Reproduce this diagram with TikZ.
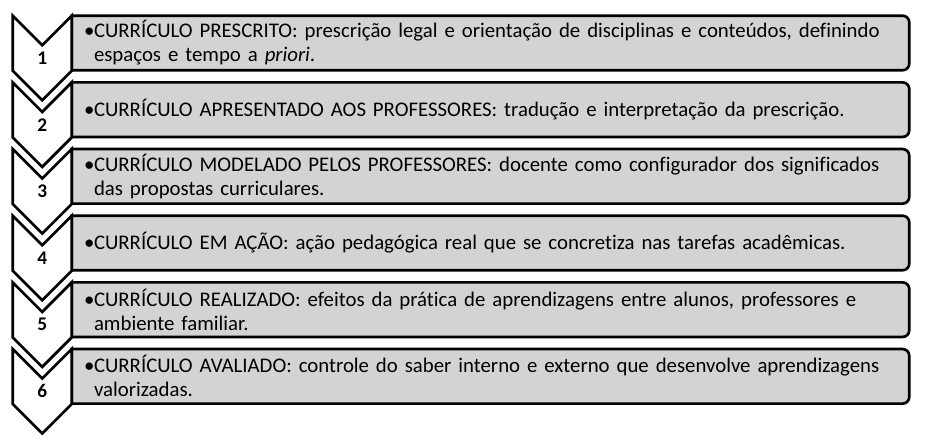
\documentclass[tikz,border=0pt]{standalone}
\usepackage{fontspec}
\setmainfont{Carlito}[Ligatures={NoCommon}]
\usetikzlibrary{calc,backgrounds}
\definecolor{stagegray}{RGB}{211,211,211}
\tikzstyle{stage} = [text width=594.75pt, inner xsep=16.5pt, inner ysep=0pt,
    minimum height=40.5pt, align=left, font=\fontsize{15.6}{18}\selectfont]
\tikzstyle{stageframe} = [draw, line width=2pt, fill=stagegray]
\tikzstyle{chevron} = [draw, line width=2pt, fill=white, line join=miter]
\tikzstyle{stagenum} = [font=\fontsize{14.5}{16}\selectfont\bfseries]
\newcommand{\stagebullet}{\llap{\makebox[7.5pt][l]{•}}}

\begin{document}
\begin{tikzpicture}[node distance = 50pt]
   \useasboundingbox (0,0) rectangle (695.25pt,-330.75pt);
   \node [stage] (b1) at (367.875pt,-32.25pt) {\stagebullet CURRÍCULO PRESCRITO: prescrição legal e orientação de disciplinas e conteúdos, definindo\\ espaços e tempo a \textit{priori}.};
   \node [stage,below of=b1] (b2) {\stagebullet CURRÍCULO APRESENTADO AOS PROFESSORES: tradução e interpretação da prescrição.};
   \node [stage,below of=b2] (b3) {\stagebullet CURRÍCULO MODELADO PELOS PROFESSORES: docente como configurador dos significados\\ das propostas curriculares.};
   \node [stage,below of=b3] (b4) {\stagebullet CURRÍCULO EM AÇÃO: ação pedagógica real que se concretiza nas tarefas acadêmicas.};
   \node [stage,below of=b4] (b5) {\stagebullet CURRÍCULO REALIZADO: efeitos da prática de aprendizagens entre alunos, professores e\\ ambiente familiar.};
   \node [stage,below of=b5] (b6) {\stagebullet CURRÍCULO AVALIADO: controle do saber interno e externo que desenvolve aprendizagens\\ valorizadas.};
   \begin{pgfonlayer}{background}
   \foreach \i in {1,...,6} {
      \path [stageframe] (b\i.south west) -- (b\i.north west) -- ($(b\i.north east)+(-5pt,0)$)
         arc [start angle=90, end angle=0, radius=5pt] -- ($(b\i.south east)+(0,5pt)$)
         arc [start angle=0, end angle=-90, radius=5pt] -- cycle;
   }
   \end{pgfonlayer}
   \foreach \i in {1,...,6} {
      \draw [chevron] ($(b\i.north west)+(-44.25pt,0)$) -- ++(22.125pt,-22.125pt) -- (b\i.north west)
         -- ++(0,-41.25pt) -- ++(-22.125pt,-22.125pt) -- ++(-22.125pt,22.125pt) -- cycle;
      \node [stagenum] (n\i) at ($(b\i.north west)+(-22.125pt,-31.7pt)$) {\i};
   }
\end{tikzpicture}
\end{document}
